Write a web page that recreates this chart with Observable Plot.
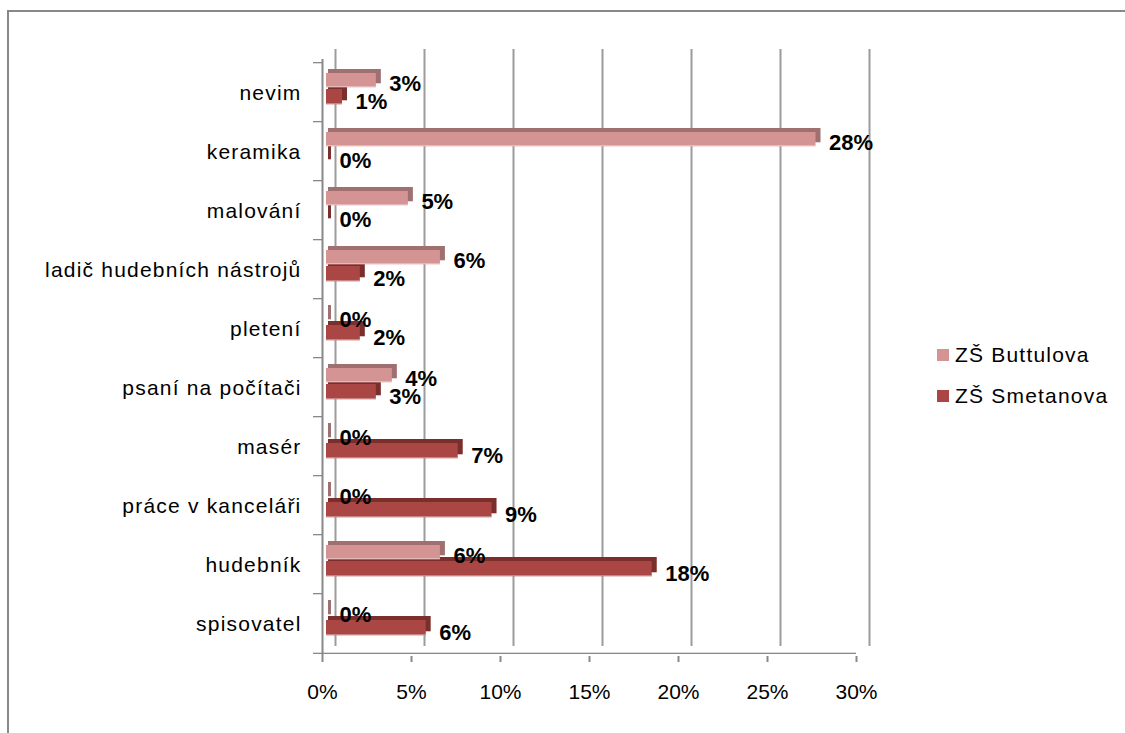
<!DOCTYPE html>
<html><head><meta charset="utf-8">
<script src="https://cdn.jsdelivr.net/npm/d3@7"></script>
<script src="https://cdn.jsdelivr.net/npm/@observablehq/plot@0.6"></script>
<style>
body{margin:0;background:#fff;width:1125px;height:733px;overflow:hidden;position:relative;font-family:"Liberation Sans",Arial,sans-serif;}
#frame{position:absolute;left:7px;top:10px;width:1200px;height:800px;border-left:2px solid #888;border-top:2px solid #888;}
#chart{position:absolute;left:0;top:0;}
#legend{position:absolute;left:937px;top:334px;}
.item{display:flex;align-items:center;height:41px;font-size:21px;letter-spacing:1.2px;color:#000;}
.sw{width:12px;height:12px;margin-right:6px;flex:none;}
</style></head>
<body><div id="frame"></div><div id="chart"></div><div id="legend"></div>
<script>
const categories = ["nevim","keramika","malování","ladič hudebních nástrojů","pletení","psaní na počítači","masér","práce v kanceláři","hudebník","spisovatel"];
const seriesNames = ["ZŠ Buttulova","ZŠ Smetanova"];
const buttulova = [2.8, 27.5, 4.6, 6.4, 0, 3.7, 0, 0, 6.4, 0];
const smetanova = [0.9, 0, 0, 1.9, 1.9, 2.8, 7.4, 9.3, 18.3, 5.6];
const xTicks = [0, 5, 10, 15, 20, 25, 30];

const frontColors = ["#D59494", "#AA4644"];
const sideColors = ["#A07070", "#7B2F2D"];

const W = 1125, H = 733, mL = 322, mR = W - 856, mT = 59, mB = H - 656;
const bw = (H - mT - mB) / categories.length;

const rows = categories.flatMap((c, i) => [
  {cat: c, s: 0, v: buttulova[i]},
  {cat: c, s: 1, v: smetanova[i]}
]);
const bySeries = [rows.filter(r => r.s === 0), rows.filter(r => r.s === 1)];
const geom = [{top: 10, h: 15}, {top: 26, h: 16}];

function barPair(s) {
  const g = geom[s];
  const ib = bw - g.top - g.h;
  return [
    Plot.barX(bySeries[s], {x1: d => 0, x2: "v", y: "cat", fill: sideColors[s],
      insetTop: g.top, insetBottom: ib, insetLeft: 2, insetRight: -5, dx: 4, dy: -4}),
    Plot.barX(bySeries[s], {x1: d => 0, x2: "v", y: "cat", fill: frontColors[s],
      insetTop: g.top, insetBottom: ib, dx: 4}),
    // light lower edge of the front face
    Plot.barX(bySeries[s], {x1: d => 0, x2: "v", y: "cat", fill: "#fff", fillOpacity: 0.35,
      insetTop: g.top + g.h - 2, insetBottom: ib, dx: 4})
  ];
}

const labelDy = [-9.5, 8.5];
function labels(s) {
  return Plot.text(bySeries[s], {x: "v", y: "cat", text: d => Math.round(d.v) + "%",
    dx: 17, dy: labelDy[s], textAnchor: "start", fontWeight: "bold", fontSize: 22, fill: "#000"});
}

const chart = Plot.plot({
  width: W, height: H,
  marginLeft: mL, marginRight: mR, marginTop: mT, marginBottom: mB,
  style: {fontFamily: "'Liberation Sans', Arial, sans-serif", fontSize: "21px", background: "transparent", color: "#000", overflow: "visible"},
  x: {domain: [0, 30], ticks: xTicks, tickFormat: d => d + "%", tickSize: 6, tickPadding: 22, label: null},
  y: {domain: categories, padding: 0, tickSize: 0, tickPadding: 21, label: null},
  marks: [
    Plot.ruleX(xTicks, {dx: 13, dy: -10, stroke: "#9c9c9c", strokeWidth: 2}),
    Plot.ruleX([0], {stroke: "#888", strokeWidth: 2}),
    Plot.barX(categories, {x1: d => 0, x2: d => 0, y: d => d, insetLeft: -9, insetTop: -1, insetBottom: bw - 1, fill: "#888"}),
    Plot.barX(categories.slice(-1), {x1: d => 0, x2: d => 30, y: d => d, insetLeft: -9, insetTop: bw - 1, insetBottom: -1, fill: "#888"}),
    ...barPair(1),
    ...barPair(0),
    labels(0),
    labels(1)
  ]
});

document.getElementById("chart").appendChild(chart);
const svg = d3.select(chart.tagName === "svg" ? chart : chart.querySelector("svg"));
svg.selectAll('g[aria-label^="x-axis"] text').attr("font-size", 21);
svg.selectAll('g[aria-label^="x-axis"] line, g[aria-label^="x-axis"] path').attr("stroke", "#888").attr("stroke-width", 2);
svg.selectAll('g[aria-label^="y-axis"] text').attr("letter-spacing", "1.2px");

const legend = d3.select("#legend");
seriesNames.forEach((name, i) => {
  const item = legend.append("div").attr("class", "item");
  item.append("div").attr("class", "sw").style("background", frontColors[i]);
  item.append("span").text(name);
});
</script></body></html>
